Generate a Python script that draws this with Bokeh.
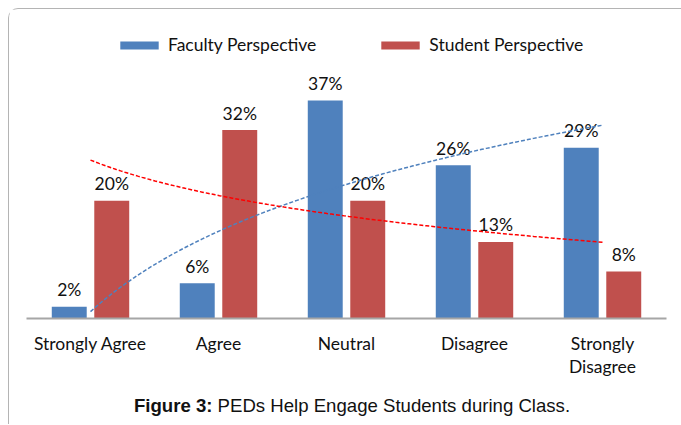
import numpy as np
from bokeh.plotting import figure
from bokeh.layouts import column
from bokeh.models import ColumnDataSource, FactorRange, Range1d, Legend, LegendItem, Div
from bokeh.transform import dodge
from bokeh.core.properties import value
from bokeh.embed import file_html
from bokeh.resources import INLINE

categories = ["Strongly Agree", "Agree", "Neutral", "Disagree", "Strongly\nDisagree"]
faculty = [2, 6, 37, 26, 29]
student = [20, 32, 20, 13, 8]
faculty_labels = ["2%", "6%", "37%", "26%", "29%"]
student_labels = ["20%", "32%", "20%", "13%", "8%"]
caption_bold = "Figure 3:"
caption_text = "PEDs Help Engage Students during Class."

BLUE = "#4F81BD"
RED = "#C0504D"
FONT = "Lato"
FS = "17.5px"

src = ColumnDataSource(dict(cat=categories, fac=faculty, stu=student,
                            fl=faculty_labels, sl=student_labels))

p = figure(width=668, height=375, output_backend="svg", toolbar_location=None,
           x_range=FactorRange(*categories, range_padding=0), y_range=Range1d(0, 49.07),
           y_axis_location=None, min_border_left=17, min_border_right=11,
           min_border_top=20, min_border_bottom=66)
p.outline_line_color = None
p.xgrid.visible = False
p.ygrid.visible = False

off = 0.166
bw = 0.273
rf = p.vbar(x=dodge("cat", -off, range=p.x_range), top="fac", width=bw, source=src,
            fill_color=BLUE, line_color=None)
rs = p.vbar(x=dodge("cat", off, range=p.x_range), top="stu", width=bw, source=src,
            fill_color=RED, line_color=None)

p.text(x=dodge("cat", -off, range=p.x_range), y="fac", text="fl", source=src,
       text_align="center", text_baseline="middle", y_offset=-17,
       text_font=value(FONT), text_font_size=FS, text_color="#111111")
p.text(x=dodge("cat", off, range=p.x_range), y="stu", text="sl", source=src,
       text_align="center", text_baseline="middle", y_offset=-17,
       text_font=value(FONT), text_font_size=FS, text_color="#111111")

# logarithmic trend lines (least squares on ln(x), x = 1..5), as in the original
xi = np.arange(1, len(categories) + 1)
t = np.linspace(1, len(categories), 120)
for ser, col in ((faculty, BLUE), (student, "#FF0000")):
    a, b = np.polyfit(np.log(xi), np.array(ser, dtype=float), 1)
    p.line(t - 0.5, a * np.log(t) + b, line_color=col, line_width=1.5, line_dash="4 2")

legend = Legend(items=[LegendItem(label="Faculty Perspective", renderers=[rf]),
                       LegendItem(label="Student Perspective", renderers=[rs])],
                orientation="horizontal", location=(89, 263),
                glyph_width=48, glyph_height=10, label_standoff=5, spacing=60,
                padding=0, margin=0, border_line_color=None, background_fill_alpha=0,
                label_text_font=FONT, label_text_font_size=FS, label_text_color="#111111")
p.add_layout(legend)

ax = p.xaxis[0]
ax.axis_line_color = "#A6A6A6"
ax.axis_line_width = 2
ax.major_tick_line_color = None
ax.minor_tick_line_color = None
ax.major_label_standoff = 8
ax.major_label_text_font = FONT
ax.major_label_text_font_size = FS
ax.major_label_text_line_height = 1.1
ax.major_label_text_color = "#111111"

cap = Div(text=f"<b>{caption_bold}</b> {caption_text}", width=668, height=30,
          styles={"font-family": "'Liberation Sans', Arial, sans-serif", "font-size": "18.6px",
                  "color": "#111111", "text-align": "center", "padding-left": "8px",
                  "padding-top": "4px", "box-sizing": "border-box"})

layout = column(p, cap, spacing=0)
layout.margin = (8, 0, 0, 8)
layout.styles = {"border-left": "1px solid #b4b4b4", "border-top": "1px solid #b4b4b4",
                 "border-top-left-radius": "10px"}

open("out.html", "w").write(file_html(layout, INLINE))
